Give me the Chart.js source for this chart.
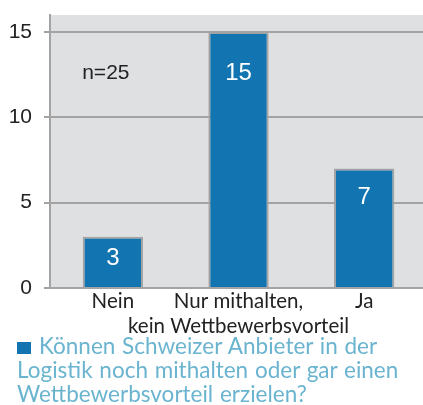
<!DOCTYPE html>
<html>
<head>
<meta charset="utf-8">
<script src="https://cdn.jsdelivr.net/npm/chart.js@4/dist/chart.umd.min.js"></script>
<style>
  html, body { margin: 0; padding: 0; background: #fff; overflow: hidden; }
  #wrap { position: relative; width: 423px; height: 405px; overflow: hidden; }
  #box { width: 427px; height: 340px; }
  #legend {
    position: absolute; left: 17px; top: 334px; width: 400px;
    font-family: Lato, sans-serif; font-size: 22.5px; line-height: 24px; color: #6ab4cf;
    word-spacing: 1px;
  }
  #legend .sq { display: inline-block; width: 14px; height: 12px; background: #1275b1; margin-right: 8px; }
</style>
</head>
<body>
<div id="wrap">
  <div id="box"><canvas id="myChart1"></canvas></div>
  <div id="legend"><span class="sq"></span>Können Schweizer Anbieter in der Logistik noch mithalten oder gar einen Wettbewerbsvorteil erzielen?</div>
</div>
<script>
const categories = [['Nein'], ['Nur mithalten,', 'kein Wettbewerbsvorteil'], ['Ja']];
const answers = [3, 15, 7];
const yTicks = [0, 5, 10, 15];
const yMax = 16;
const noteText = 'n=25';
const noteAt = 12.6;

// grey plot background
const plotBg = {
  id: 'plotBg',
  beforeDraw(chart) {
    const a = chart.chartArea;
    const ctx = chart.ctx;
    ctx.save();
    ctx.fillStyle = '#dfe0e2';
    ctx.fillRect(a.left, a.top, a.right - a.left, a.bottom - a.top);
    ctx.restore();
  }
};

// white numbers in the bars + the n= note
const barText = {
  id: 'barText',
  afterDatasetsDraw(chart) {
    const ctx = chart.ctx;
    const meta = chart.getDatasetMeta(0);
    ctx.save();
    ctx.fillStyle = '#fff';
    ctx.font = '24px "Liberation Sans", Arial, sans-serif';
    ctx.textAlign = 'center';
    ctx.textBaseline = 'middle';
    meta.data.forEach((bar, i) => {
      const h = bar.base - bar.y;
      ctx.fillText(answers[i], bar.x, bar.y + 17 + 0.097 * h);
    });
    ctx.fillStyle = '#222';
    ctx.font = '21px "Liberation Sans", Arial, sans-serif';
    const x = chart.scales.x.getPixelForValue(0) - 7;
    ctx.fillText(noteText, x, chart.scales.y.getPixelForValue(noteAt));
    ctx.restore();
  }
};

new Chart(document.getElementById('myChart1'), {
  type: 'bar',
  data: {
    labels: categories,
    datasets: [{
      data: answers,
      backgroundColor: '#1275b1',
      borderColor: '#a3a3a3',
      borderWidth: 2,
      barPercentage: 1,
      categoryPercentage: 0.48
    }]
  },
  options: {
    responsive: true,
    maintainAspectRatio: false,
    animation: false,
    layout: { padding: { top: 15, right: 0, left: 0, bottom: 0 } },
    plugins: { legend: { display: false }, tooltip: { enabled: false } },
    scales: {
      x: {
        grid: { display: false, drawTicks: false },
        border: { color: '#a3a3a3', width: 2 },
        afterFit(axis) { axis.height = 52; },
        ticks: {
          color: '#222',
          padding: 1,
          maxRotation: 0,
          autoSkip: false,
          font: { family: 'Lato, sans-serif', size: 20.5, lineHeight: 1.22 }
        }
      },
      y: {
        min: 0,
        max: yMax,
        afterBuildTicks(axis) { axis.ticks = yTicks.map(v => ({ value: v })); },
        afterFit(axis) {
          axis.width = 50;
          axis.paddingTop = 0;
          axis.paddingBottom = 0;
        },
        grid: { color: '#a3a3a3', lineWidth: 2, tickLength: 6 },
        border: { color: '#a3a3a3', width: 2 },
        ticks: {
          color: '#222',
          padding: 12,
          font: { family: '"Liberation Sans", Arial, sans-serif', size: 21 }
        }
      }
    }
  },
  plugins: [plotBg, barText]
});
</script>
</body>
</html>
